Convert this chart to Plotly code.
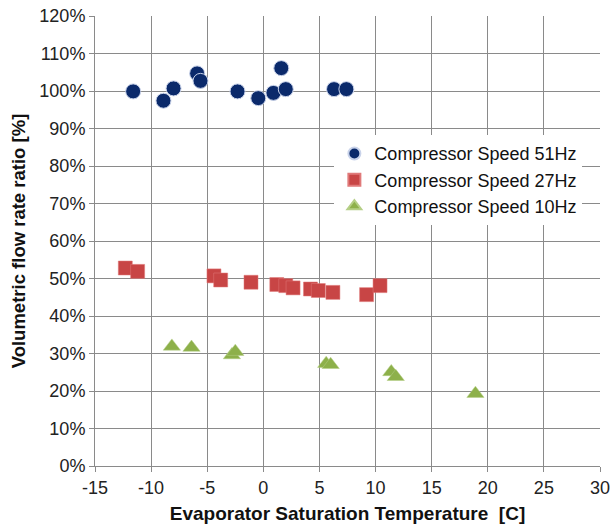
import plotly.graph_objects as go

# Compressor Speed 51Hz
t51 = [-11.6, -8.9, -8.0, -5.9, -5.6, -2.3, -0.45, 0.9, 1.6, 2.0, 6.3, 7.4]
v51 = [99.9, 97.4, 100.7, 104.7, 102.7, 99.9, 98.1, 99.5, 106.1, 100.5, 100.5, 100.5]

# Compressor Speed 27Hz
t27 = [-12.3, -11.2, -4.4, -3.8, -1.1, 1.2, 2.0, 2.65, 4.2, 4.9, 6.2, 9.2, 10.4]
v27 = [52.8, 51.9, 50.7, 49.6, 49.0, 48.4, 48.1, 47.5, 47.2, 46.8, 46.3, 45.7, 48.1]

# Compressor Speed 10Hz
t10 = [-8.15, -6.4, -2.8, -2.5, 5.6, 6.0, 11.4, 11.8, 18.9]
v10 = [31.9, 31.6, 29.6, 30.5, 27.3, 27.0, 25.1, 23.8, 19.3]

names = ["Compressor Speed 51Hz", "Compressor Speed 27Hz", "Compressor Speed 10Hz"]
x_ticks = [-15, -10, -5, 0, 5, 10, 15, 20, 25, 30]
x_labels = [str(v) for v in x_ticks]
y_ticks = [0, 10, 20, 30, 40, 50, 60, 70, 80, 90, 100, 110, 120]
y_labels = [f"{v}%" for v in y_ticks]

FONT = "Arial, Liberation Sans, sans-serif"
GRID = "#8a8a8a"

fig = go.Figure()
fig.add_trace(go.Scatter(x=t51, y=v51, mode="markers", name=names[0], legendgroup="a",
                         marker=dict(symbol="circle", size=15, color="#0b2a6b",
                                     line=dict(color="#c9d3ea", width=1))))
fig.add_trace(go.Scatter(x=t27, y=v27, mode="markers", name=names[1], legendgroup="b",
                         marker=dict(symbol="square", size=14, color="#c84545",
                                     line=dict(color="#e07a7a", width=0.5))))
fig.add_trace(go.Scatter(x=t10, y=v10, mode="markers", name=names[2], legendgroup="c",
                         marker=dict(symbol="triangle-up", size=15, color="#8db04a",
                                     line=dict(color="#b5cf86", width=0.5))))

fig.update_layout(
    width=610, height=531,
    margin=dict(l=95, r=10, t=16, b=63),
    paper_bgcolor="white", plot_bgcolor="white",
    font=dict(family=FONT, size=18, color="#222"),
    legend=dict(x=0.474, y=0.735, xanchor="left", yanchor="top",
                bgcolor="white", borderwidth=0, font=dict(size=18, color="#111"),
                itemsizing="constant", traceorder="grouped", tracegroupgap=0),
    xaxis=dict(range=[-15, 30], tickvals=x_ticks, ticktext=x_labels, showgrid=True,
               gridcolor=GRID, gridwidth=1, ticklabeloverflow="allow", automargin="bottom",
               zeroline=False, showline=True, linecolor=GRID, linewidth=1,
               ticks="outside", ticklen=5, tickcolor=GRID,
               title=dict(text="<b>Evaporator Saturation Temperature\u00a0\u00a0[C]</b>",
                          font=dict(size=19, color="#111"), standoff=10)),
    yaxis=dict(range=[0, 120], tickvals=y_ticks, ticktext=y_labels, showgrid=True,
               gridcolor=GRID, gridwidth=1, zeroline=False, showline=True, linecolor=GRID,
               linewidth=1, ticks="outside", ticklen=5, tickcolor=GRID, automargin="left",
               title=dict(text="<b>Volumetric flow rate ratio [%]</b>",
                          font=dict(size=18.5, color="#111"), standoff=8)),
)
fig.write_html("out.html")
